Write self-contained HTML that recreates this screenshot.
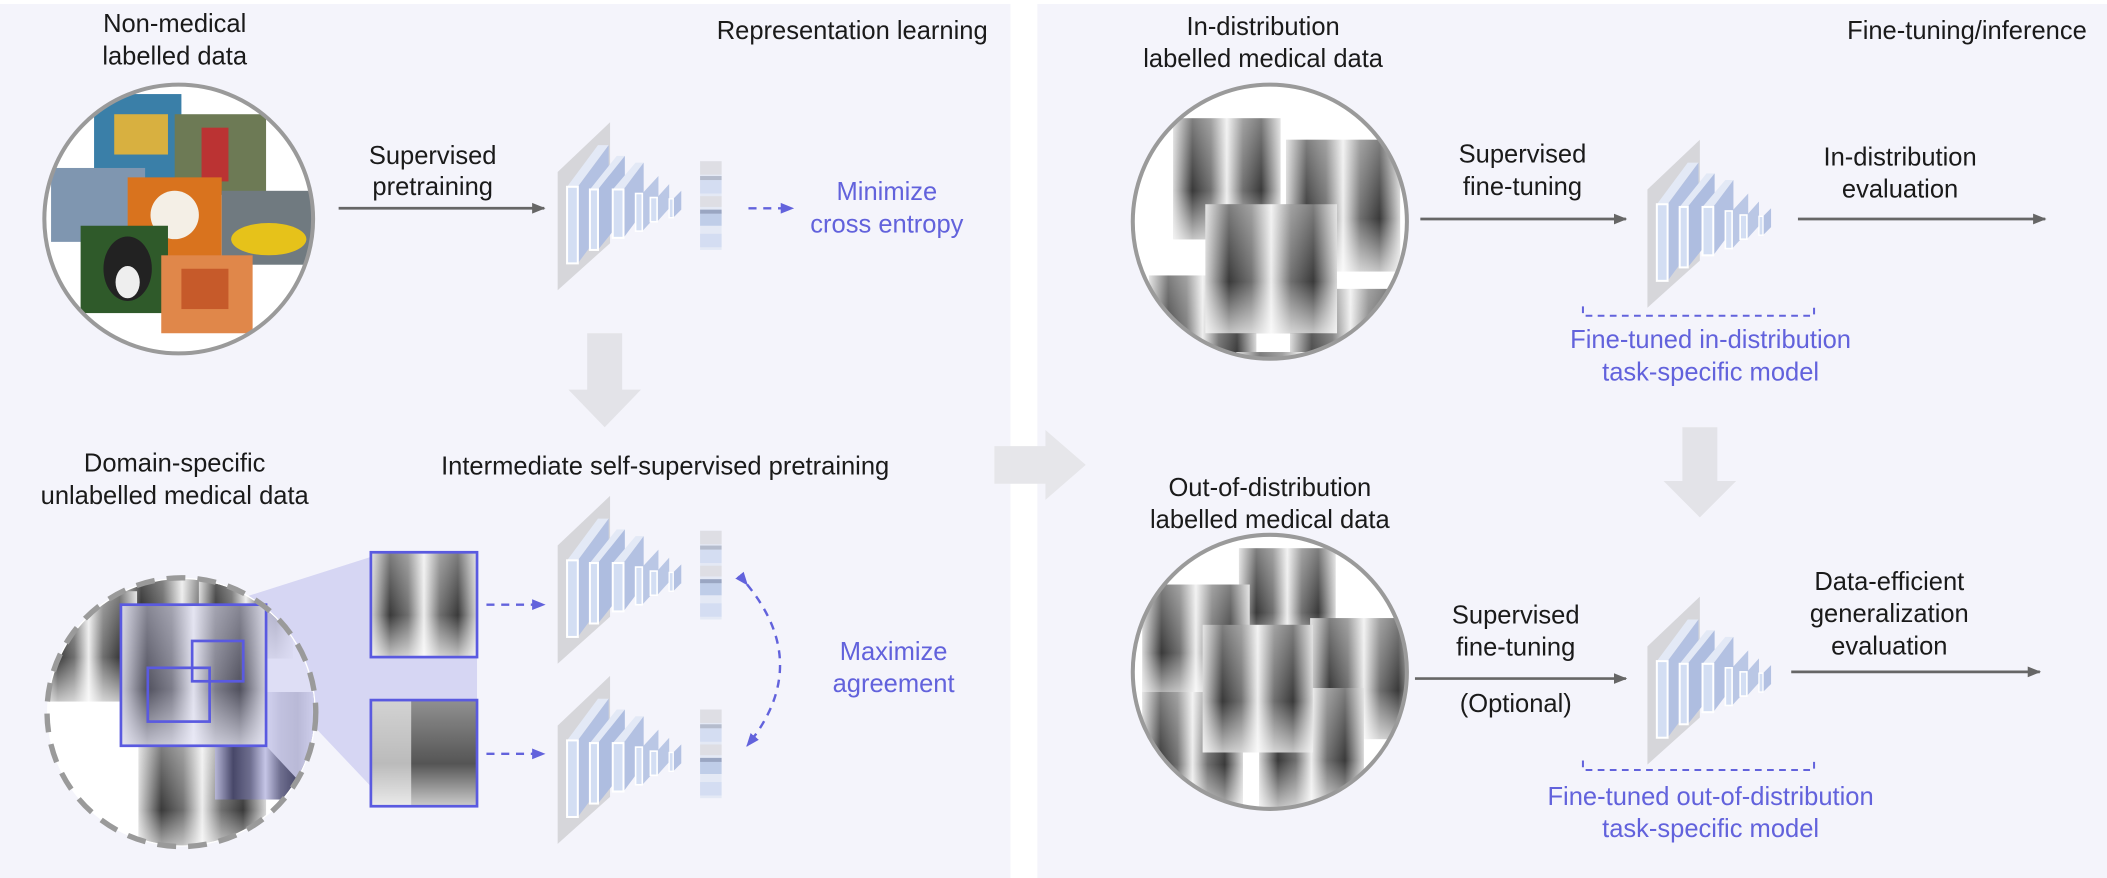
<!DOCTYPE html>
<html><head><meta charset="utf-8"><style>
html,body{margin:0;padding:0;background:#fff}
svg{display:block}
text{font-family:"Liberation Sans",sans-serif;font-size:19px;fill:#1a1a1a}
.p{fill:#6262dc}
.x{fill:url(#xr)}
.v{fill:url(#xv)}
</style></head><body>
<svg width="2107" height="878" viewBox="0 0 1568 653.4" preserveAspectRatio="none" xmlns="http://www.w3.org/2000/svg">
<defs>
<linearGradient id="xr" x1="0" x2="1" y1="0" y2="0">
<stop offset="0" stop-color="#d8d8d8"/><stop offset=".18" stop-color="#3a3a3a"/><stop offset=".35" stop-color="#707070"/><stop offset=".5" stop-color="#ededed"/><stop offset=".65" stop-color="#707070"/><stop offset=".82" stop-color="#3a3a3a"/><stop offset="1" stop-color="#d8d8d8"/></linearGradient>
<linearGradient id="xv" x1="0" x2="0" y1="0" y2="1"><stop offset="0" stop-color="#fff" stop-opacity=".35"/><stop offset=".6" stop-color="#fff" stop-opacity="0"/><stop offset="1" stop-color="#fff" stop-opacity=".7"/></linearGradient>
<g id="net">
<polygon points="0,43 39,6 39,96 0,131" fill="#d6d6da"/>
<polygon points="7,54 30,23 38,23 15,54" fill="#e3e9f6"/><polygon points="15,54 38,23 38,80 15,111" fill="#b3c1e2"/><rect x="7" y="54" width="8" height="57" fill="#d3def3" stroke="#fff" stroke-width="1.5"/>
<polygon points="24,56 44,31 50,31 30,56" fill="#e3e9f6"/><polygon points="30,56 50,31 50,76 30,101" fill="#aebde0"/><rect x="24" y="56" width="6" height="45" fill="#d3def3" stroke="#fff" stroke-width="1.5"/>
<polygon points="41,56 58,36 64,36 49,56" fill="#e3e9f6"/><polygon points="49,56 64,36 64,72 49,92" fill="#b3c1e2"/><rect x="41" y="56" width="8" height="36" fill="#d3def3" stroke="#fff" stroke-width="1.5"/>
<polygon points="63,59 75,46 75,74 63,87" fill="#bac7e5"/><rect x="58" y="59" width="5" height="28" fill="#d3def3" stroke="#fff" stroke-width="1.2"/>
<polygon points="74,62 83,52 83,70 74,80" fill="#bac7e5"/><rect x="69" y="62" width="5" height="18" fill="#d3def3" stroke="#fff" stroke-width="1.2"/>
<polygon points="86,63 92,57 92,71 86,77" fill="#b3c1e2"/><rect x="83" y="63" width="3" height="14" fill="#d3def3" stroke="#fff" stroke-width="1"/>
</g>
<g id="col">
<rect x="0" y="0" width="16" height="66" fill="#e4e9f5"/>
<rect x="0" y="0" width="16" height="10" fill="#dedee4"/><rect x="0" y="14" width="16" height="10" fill="#d4ddf2"/><rect x="0" y="26" width="16" height="8" fill="#dedee4"/><rect x="0" y="38" width="16" height="10" fill="#bfcde8"/><rect x="0" y="54" width="16" height="10" fill="#d4ddf2"/>
<rect x="0" y="36" width="16" height="3" fill="#9aa6c2"/><rect x="0" y="11" width="16" height="3" fill="#b5bccd"/>
</g>
<marker id="ag" markerWidth="10" markerHeight="10" refX="9" refY="5" orient="auto" markerUnits="userSpaceOnUse"><path d="M0,1 L10,5 L0,9 Z" fill="#666"/></marker>
<marker id="ap" markerWidth="10" markerHeight="10" refX="9" refY="5" orient="auto" markerUnits="userSpaceOnUse"><path d="M0,1 L10,5 L0,9 Z" fill="#6262dc"/></marker>
<clipPath id="c1"><circle cx="133" cy="163" r="99"/></clipPath>
<clipPath id="c2"><circle cx="135" cy="530" r="99"/></clipPath>
<clipPath id="c3"><circle cx="945" cy="165" r="101"/></clipPath>
<clipPath id="c4"><circle cx="945" cy="500" r="101"/></clipPath>
</defs>
<rect x="0" y="3" width="752" height="651" fill="#f4f4fb"/>
<rect x="772" y="3" width="796" height="651" fill="#f4f4fb"/>
<text x="735" y="29" text-anchor="end">Representation learning</text>
<text x="1553" y="29" text-anchor="end">Fine-tuning/inference</text>

<!-- circle 1 -->
<text x="130" y="24" text-anchor="middle">Non-medical</text>
<text x="130" y="48" text-anchor="middle">labelled data</text>
<circle cx="133" cy="163" r="100" fill="#fff"/>
<g clip-path="url(#c1)">
<rect x="70" y="70" width="65" height="70" fill="#3a7fa8"/><rect x="85" y="85" width="40" height="30" fill="#d8b040"/>
<rect x="130" y="85" width="68" height="60" fill="#6d7a55"/><rect x="150" y="95" width="20" height="40" fill="#b33"/>
<rect x="38" y="125" width="70" height="55" fill="#7f96b0"/>
<rect x="95" y="132" width="70" height="60" fill="#d9731e"/><circle cx="130" cy="160" r="18" fill="#f4efe6"/>
<rect x="165" y="142" width="70" height="55" fill="#707a80"/><ellipse cx="200" cy="178" rx="28" ry="12" fill="#e6c21a"/>
<rect x="60" y="168" width="65" height="65" fill="#2f5a2a"/><ellipse cx="95" cy="200" rx="18" ry="24" fill="#222"/><ellipse cx="95" cy="210" rx="9" ry="12" fill="#eee"/>
<rect x="120" y="190" width="68" height="58" fill="#e0874a"/><rect x="135" y="200" width="35" height="30" fill="#c65a2a"/>
</g>
<circle cx="133" cy="163" r="100" fill="none" stroke="#9a9a9a" stroke-width="3"/>

<text x="322" y="122" text-anchor="middle">Supervised</text>
<text x="322" y="145" text-anchor="middle">pretraining</text>
<line x1="252" y1="155" x2="405" y2="155" stroke="#666" stroke-width="2" marker-end="url(#ag)"/>
<use href="#net" x="415" y="85"/>
<use href="#col" x="521" y="120"/>
<line x1="557" y1="155" x2="590" y2="155" stroke="#6262dc" stroke-width="1.8" stroke-dasharray="6,5" marker-end="url(#ap)"/>
<text x="660" y="149" text-anchor="middle" class="p">Minimize</text>
<text x="660" y="173" text-anchor="middle" class="p">cross entropy</text>

<polygon points="437,248 463,248 463,290 477,290 450,318 423,290 437,290" fill="#e3e3e8"/>

<text x="130" y="351" text-anchor="middle">Domain-specific</text>
<text x="130" y="375" text-anchor="middle">unlabelled medical data</text>
<text x="495" y="353" text-anchor="middle">Intermediate self-supervised pretraining</text>

<!-- circle 2 -->
<polygon points="290,410 355,410 355,600 290,600 200,505 180,445" fill="#d6d6f3"/>
<circle cx="135" cy="530" r="100" fill="#fff"/>
<g clip-path="url(#c2)">
<rect class="x" x="88" y="405" width="95" height="75"/><rect class="v" x="88" y="405" width="95" height="75"/>
<rect class="x" x="148" y="410" width="70" height="80"/><rect class="v" x="148" y="410" width="70" height="80"/>
<rect class="x" x="30" y="440" width="72" height="82"/><rect class="v" x="30" y="440" width="72" height="82"/>
<rect class="x" x="103" y="555" width="95" height="80"/><rect class="v" x="103" y="555" width="95" height="80"/>
<rect class="x" x="160" y="515" width="75" height="80"/><rect x="160" y="515" width="75" height="80" fill="#6a6ad8" opacity=".3"/>
<rect class="x" x="90" y="450" width="108" height="105"/><rect class="v" x="90" y="450" width="108" height="105"/>
<rect x="90" y="450" width="108" height="105" fill="#b0b0ee" opacity=".2"/>
<polygon points="198,450 240,420 240,600 198,555" fill="#d6d6f3" opacity=".8"/>
</g>
<rect x="90" y="450" width="108" height="105" fill="none" stroke="#5a5ae0" stroke-width="2"/>
<rect x="143" y="477" width="38" height="30" fill="none" stroke="#5a5ae0" stroke-width="2"/>
<rect x="110" y="497" width="46" height="40" fill="none" stroke="#5a5ae0" stroke-width="2"/>
<circle cx="135" cy="530" r="100" fill="none" stroke="#9a9a9a" stroke-width="4" stroke-dasharray="14,9"/>
<g><rect x="276" y="411" width="79" height="78" fill="url(#xr)"/><rect x="276" y="411" width="79" height="78" fill="url(#xv)"/><rect x="276" y="411" width="79" height="78" fill="none" stroke="#5a5ae0" stroke-width="2"/></g>
<g><rect x="276" y="521" width="79" height="79" fill="#555"/><rect x="276" y="521" width="30" height="79" fill="#bbb"/><rect x="276" y="521" width="79" height="79" fill="url(#xv)"/><rect x="276" y="521" width="79" height="79" fill="none" stroke="#5a5ae0" stroke-width="2"/></g>
<line x1="362" y1="450" x2="405" y2="450" stroke="#6262dc" stroke-width="1.8" stroke-dasharray="6,5" marker-end="url(#ap)"/>
<line x1="362" y1="561" x2="405" y2="561" stroke="#6262dc" stroke-width="1.8" stroke-dasharray="6,5" marker-end="url(#ap)"/>
<use href="#net" x="415" y="363"/>
<use href="#net" x="415" y="497"/>
<use href="#col" x="521" y="395"/>
<use href="#col" x="521" y="528"/>
<path d="M556,435 Q605,495 556,555" fill="none" stroke="#6262dc" stroke-width="1.8" stroke-dasharray="6,5" marker-start="url(#ap)" marker-end="url(#ap)"/>
<text x="665" y="491" text-anchor="middle" class="p">Maximize</text>
<text x="665" y="515" text-anchor="middle" class="p">agreement</text>

<polygon points="740,332 778,332 778,320 808,346 778,372 778,360 740,360" fill="#e6e6ea"/>

<!-- right top -->
<text x="940" y="26" text-anchor="middle">In-distribution</text>
<text x="940" y="50" text-anchor="middle">labelled medical data</text>
<circle cx="945" cy="165" r="102" fill="#fff"/>
<g clip-path="url(#c3)">
<rect class="x" x="873" y="88" width="80" height="90"/><rect class="v" x="873" y="88" width="80" height="90"/>
<rect class="x" x="957" y="104" width="85" height="98"/><rect class="v" x="957" y="104" width="85" height="98"/>
<rect class="x" x="855" y="205" width="80" height="100"/><rect class="v" x="855" y="205" width="80" height="100"/>
<rect class="x" x="960" y="215" width="90" height="110"/><rect class="v" x="960" y="215" width="90" height="110"/>
<rect class="x" x="920" y="262" width="98" height="100"/><rect class="v" x="920" y="262" width="98" height="100"/>
<rect class="x" x="897" y="152" width="98" height="96"/><rect class="v" x="897" y="152" width="98" height="96"/>
</g>
<circle cx="945" cy="165" r="102" fill="none" stroke="#9a9a9a" stroke-width="3"/>
<text x="1133" y="121" text-anchor="middle">Supervised</text>
<text x="1133" y="145" text-anchor="middle">fine-tuning</text>
<line x1="1057" y1="163" x2="1210" y2="163" stroke="#666" stroke-width="2" marker-end="url(#ag)"/>
<use href="#net" x="1226" y="98"/>
<text x="1414" y="123" text-anchor="middle">In-distribution</text>
<text x="1414" y="147" text-anchor="middle">evaluation</text>
<line x1="1338" y1="163" x2="1522" y2="163" stroke="#666" stroke-width="2" marker-end="url(#ag)"/>
<path d="M1178,228 V235 H1350 V228" fill="none" stroke="#6262dc" stroke-width="1.5" stroke-dasharray="5,4"/>
<text x="1273" y="259" text-anchor="middle" class="p">Fine-tuned in-distribution</text>
<text x="1273" y="283" text-anchor="middle" class="p">task-specific model</text>
<polygon points="1252,318 1278,318 1278,358 1292,358 1265,385 1238,358 1252,358" fill="#e3e3e8"/>

<!-- right bottom -->
<text x="945" y="369" text-anchor="middle">Out-of-distribution</text>
<text x="945" y="393" text-anchor="middle">labelled medical data</text>
<circle cx="945" cy="500" r="102" fill="#fff"/>
<g clip-path="url(#c4)">
<rect class="x" x="922" y="408" width="72" height="80"/><rect class="v" x="922" y="408" width="72" height="80"/>
<rect class="x" x="850" y="435" width="80" height="85"/><rect class="v" x="850" y="435" width="80" height="85"/>
<rect class="x" x="975" y="460" width="80" height="90"/><rect class="v" x="975" y="460" width="80" height="90"/>
<rect class="x" x="850" y="515" width="75" height="90"/><rect class="v" x="850" y="515" width="75" height="90"/>
<rect class="x" x="937" y="512" width="78" height="90"/><rect class="v" x="937" y="512" width="78" height="90"/>
<rect class="x" x="895" y="465" width="82" height="95"/><rect class="v" x="895" y="465" width="82" height="95"/>
</g>
<circle cx="945" cy="500" r="102" fill="none" stroke="#9a9a9a" stroke-width="3"/>
<text x="1128" y="464" text-anchor="middle">Supervised</text>
<text x="1128" y="488" text-anchor="middle">fine-tuning</text>
<text x="1128" y="530" text-anchor="middle">(Optional)</text>
<line x1="1053" y1="505" x2="1210" y2="505" stroke="#666" stroke-width="2" marker-end="url(#ag)"/>
<use href="#net" x="1226" y="438"/>
<text x="1406" y="439" text-anchor="middle">Data-efficient</text>
<text x="1406" y="463" text-anchor="middle">generalization</text>
<text x="1406" y="487" text-anchor="middle">evaluation</text>
<line x1="1333" y1="500" x2="1518" y2="500" stroke="#666" stroke-width="2" marker-end="url(#ag)"/>
<path d="M1178,566 V573 H1350 V566" fill="none" stroke="#6262dc" stroke-width="1.5" stroke-dasharray="5,4"/>
<text x="1273" y="599" text-anchor="middle" class="p">Fine-tuned out-of-distribution</text>
<text x="1273" y="623" text-anchor="middle" class="p">task-specific model</text>
</svg>
</body></html>
